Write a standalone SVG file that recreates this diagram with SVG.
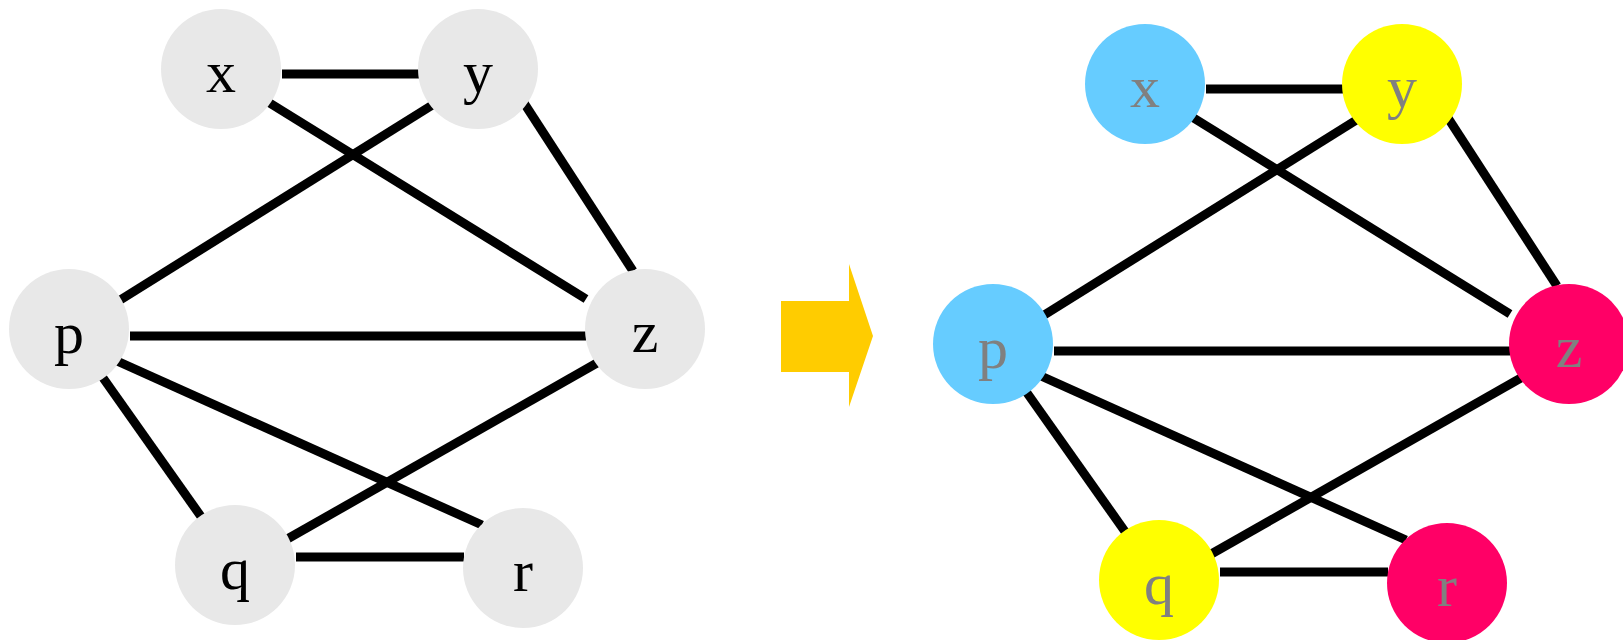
<svg xmlns="http://www.w3.org/2000/svg" width="1623" height="640" viewBox="0 0 1623 640">
<style>
.e{stroke:#000;stroke-width:9;fill:none}
.g{fill:#E8E8E8}
.b{fill:#66CCFF}
.yl{fill:#FFFF00}
.m{fill:#FF0066}
.t{font-family:"Liberation Serif","Times New Roman",serif;font-size:60px;text-anchor:middle}
.tl{fill:#000}
.tr{fill:#808080}
</style>
<rect width="1623" height="640" fill="#fff"/>
<g id="left-graph">
<g id="left-edges">
<line class="e" x1="282" y1="74" x2="420" y2="74"/>
<line class="e" x1="268" y1="102" x2="586" y2="299"/>
<line class="e" x1="434" y1="104" x2="117" y2="302"/>
<line class="e" x1="524" y1="103" x2="633" y2="271"/>
<line class="e" x1="130" y1="336" x2="586" y2="336"/>
<line class="e" x1="117" y1="361" x2="482" y2="525"/>
<line class="e" x1="101" y1="375" x2="207" y2="525"/>
<line class="e" x1="604" y1="359" x2="282" y2="542"/>
<line class="e" x1="296" y1="557" x2="464" y2="557"/>
</g>
<g id="L-x"><circle class="g" cx="221" cy="69" r="60"/><text class="t tl" x="221" y="92">x</text></g>
<g id="L-y"><circle class="g" cx="478" cy="69" r="60"/><text class="t tl" x="478" y="92">y</text></g>
<g id="L-p"><circle class="g" cx="69" cy="329" r="60"/><text class="t tl" x="69" y="353">p</text></g>
<g id="L-z"><circle class="g" cx="645" cy="329" r="60"/><text class="t tl" x="645" y="352">z</text></g>
<g id="L-q"><circle class="g" cx="235" cy="565" r="60"/><text class="t tl" x="235" y="589">q</text></g>
<g id="L-r"><circle class="g" cx="523" cy="568" r="60"/><text class="t tl" x="523" y="591">r</text></g>
</g>
<g id="arrow"><polygon fill="#FFCC00" points="781,301 849,301 849,264 873,336 849,407 849,372 781,372"/></g>
<g id="right-graph">
<g id="right-edges">
<line class="e" x1="1206" y1="89" x2="1344" y2="89"/>
<line class="e" x1="1192" y1="117" x2="1510" y2="314"/>
<line class="e" x1="1358" y1="119" x2="1041" y2="317"/>
<line class="e" x1="1448" y1="118" x2="1557" y2="286"/>
<line class="e" x1="1054" y1="351" x2="1510" y2="351"/>
<line class="e" x1="1041" y1="376" x2="1406" y2="540"/>
<line class="e" x1="1025" y1="390" x2="1131" y2="540"/>
<line class="e" x1="1528" y1="374" x2="1206" y2="557"/>
<line class="e" x1="1220" y1="572" x2="1388" y2="572"/>
</g>
<g id="R-x"><circle class="b" cx="1145" cy="84" r="60"/><text class="t tr" x="1145" y="107">x</text></g>
<g id="R-y"><circle class="yl" cx="1402" cy="84" r="60"/><text class="t tr" x="1402" y="107">y</text></g>
<g id="R-p"><circle class="b" cx="993" cy="344" r="60"/><text class="t tr" x="993" y="368">p</text></g>
<g id="R-z"><circle class="m" cx="1569" cy="344" r="60"/><text class="t tr" x="1569" y="367">z</text></g>
<g id="R-q"><circle class="yl" cx="1159" cy="580" r="60"/><text class="t tr" x="1159" y="604">q</text></g>
<g id="R-r"><circle class="m" cx="1447" cy="583" r="60"/><text class="t tr" x="1447" y="606">r</text></g>
</g>
</svg>
